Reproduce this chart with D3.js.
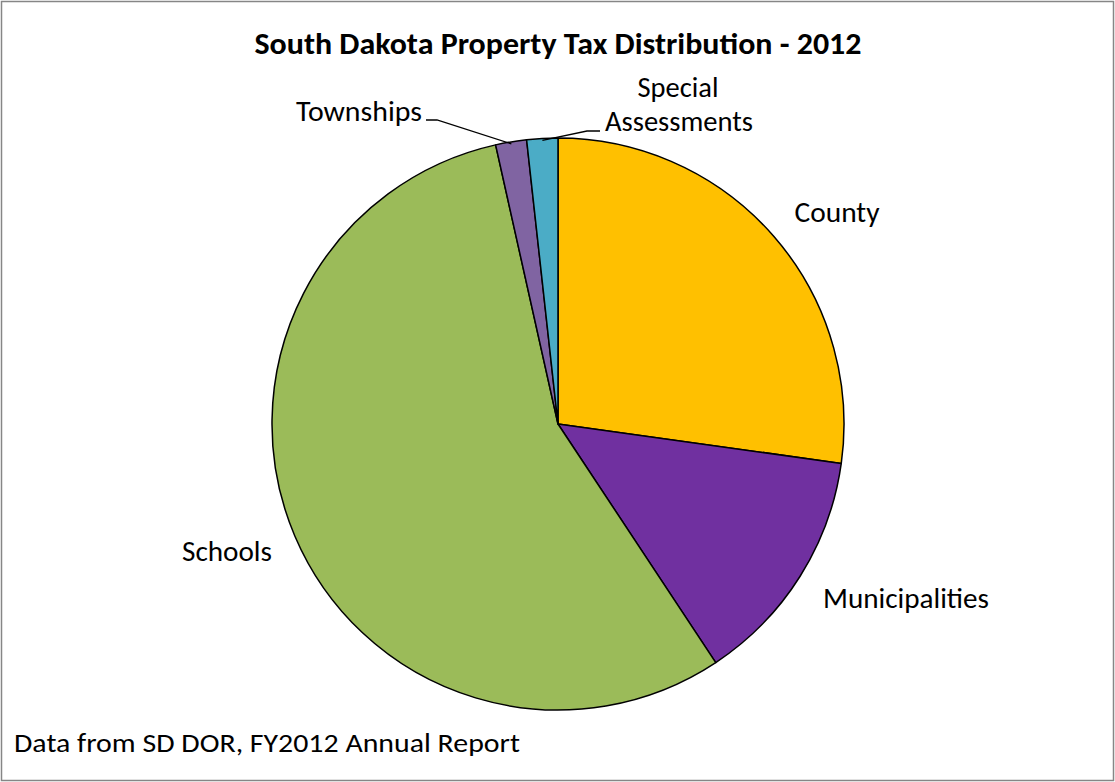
<!DOCTYPE html>
<html>
<head>
<meta charset="utf-8">
<script src="https://cdn.jsdelivr.net/npm/d3@7"></script>
<style>
  html, body { margin: 0; padding: 0; background: #fff; }
  svg { display: block; }
  text { font-family: Carlito, "Open Sans", "Liberation Sans", sans-serif; fill: #000; }
</style>
</head>
<body>
<svg id="chart" width="1115" height="782"></svg>
<script>
// Share of 2012 property tax collections (percent)
const categories = ["County", "Municipalities", "Schools", "Townships", "Special Assessments"];
const shares = [27.2, 13.5, 55.8, 1.75, 1.75];
const colors = ["#FFC000", "#7030A0", "#9BBB59", "#8064A2", "#4BACC6"];

const title = "South Dakota Property Tax Distribution - 2012";
const footnote = "Data from SD DOR, FY2012 Annual Report";

// Label placement: each text line has its own centre x, baseline y and fitted width
const labelLayout = {
  "County":              { lines: [{ t: "County", x: 837, y: 222, w: 85 }] },
  "Municipalities":      { lines: [{ t: "Municipalities", x: 906, y: 608, w: 166 }] },
  "Schools":             { lines: [{ t: "Schools", x: 227, y: 561, w: 90 }] },
  "Townships":           { lines: [{ t: "Townships", x: 359, y: 121, w: 126 }],
                           leader: [[426, 120], [437, 120]] },
  "Special Assessments": { lines: [{ t: "Special", x: 678, y: 97, w: 81 },
                                   { t: "Assessments", x: 679, y: 131, w: 148 }],
                           leader: [[600, 131], [587, 131]] }
};

const W = 1115, H = 782;
const cx = 558, cy = 424, R = 286;

const svg = d3.select("#chart");

// Chart-area frame
svg.append("rect")
  .attr("x", 1.5).attr("y", 1.5)
  .attr("width", W - 3).attr("height", H - 3)
  .attr("fill", "#fff")
  .attr("stroke", "#868686").attr("stroke-width", 1.5);

svg.append("text")
  .attr("x", cx).attr("y", 54)
  .attr("text-anchor", "middle")
  .attr("font-size", 31).attr("font-weight", "bold")
  .attr("textLength", 607).attr("lengthAdjust", "spacingAndGlyphs")
  .text(title);

const data = categories.map((c, i) => ({ name: c, value: shares[i], color: colors[i] }));

const pie = d3.pie().sort(null).value(d => d.value).startAngle(0).endAngle(2 * Math.PI);
const arc = d3.arc().innerRadius(0).outerRadius(R);
const arcs = pie(data);

const g = svg.append("g").attr("transform", `translate(${cx},${cy})`);

g.selectAll("path.slice")
  .data(arcs)
  .join("path")
  .attr("class", "slice")
  .attr("d", arc)
  .attr("fill", d => d.data.color)
  .attr("stroke", "#000")
  .attr("stroke-width", 1.5)
  .attr("stroke-linejoin", "round");

// Labels, with leader lines into the thin slices
arcs.forEach(a => {
  const L = labelLayout[a.data.name];
  if (L.leader) {
    const mid = (a.startAngle + a.endAngle) / 2;
    const px = cx + Math.sin(mid) * (R - 2);
    const py = cy - Math.cos(mid) * (R - 2);
    const pts = L.leader.concat([[px, py]]);
    svg.append("path")
      .attr("d", d3.line()(pts))
      .attr("fill", "none")
      .attr("stroke", "#000")
      .attr("stroke-width", 1.3);
  }
  L.lines.forEach(line => {
    svg.append("text")
      .attr("x", line.x).attr("y", line.y)
      .attr("text-anchor", "middle")
      .attr("font-size", 29)
      .attr("textLength", line.w).attr("lengthAdjust", "spacingAndGlyphs")
      .text(line.t);
  });
});

svg.append("text")
  .attr("x", 14).attr("y", 752)
  .attr("font-size", 27)
  .attr("textLength", 506).attr("lengthAdjust", "spacingAndGlyphs")
  .text(footnote);
</script>
</body>
</html>
